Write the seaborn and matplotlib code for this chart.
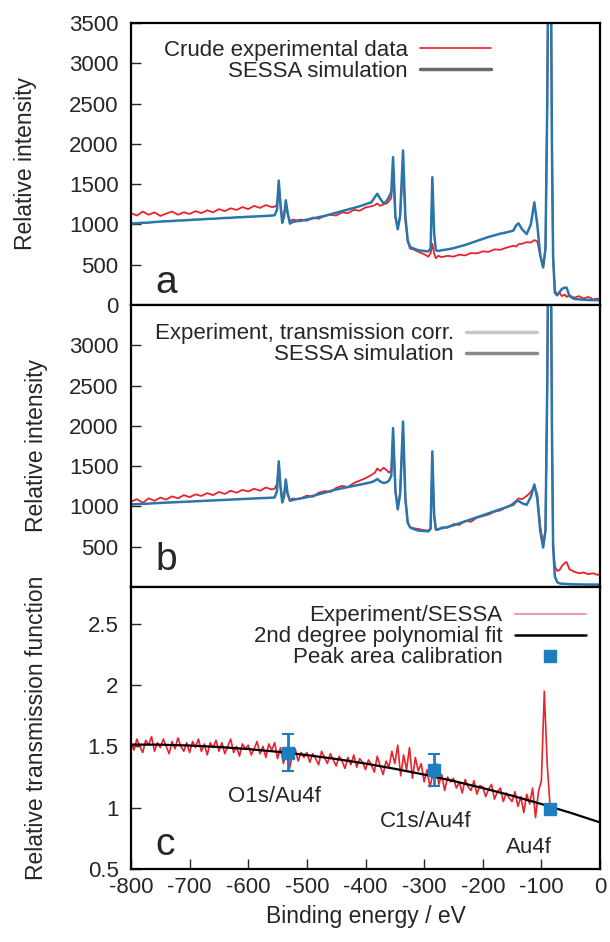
import matplotlib
matplotlib.use("Agg")
import matplotlib.pyplot as plt
import seaborn as sns
from matplotlib.lines import Line2D

# binding energy grid for the survey spectra (eV), denser around the peaks
energy = [
    -800, -790, -780, -770, -760, -750, -740, -730, -720, -710, -700, -690, -680,
    -670, -660, -650, -640, -630, -620, -610, -600, -590, -580, -570, -560,
    -555, -551, -548, -545, -542, -539, -536, -533, -529, -524, -518,
    -510, -500, -490, -480, -470, -460, -450, -440, -430, -420, -410, -400, -390,
    -384, -380, -375, -369, -364, -360, -356, -353, -349, -345, -341, -336, -332,
    -328, -324, -318,
    -310, -300, -293,
    -289, -286, -283, -280, -276,
    -270, -260, -250, -240, -230, -220, -210, -200, -190, -180, -170, -160,
    -155, -148, -143, -139, -133, -125, -118, -112, -107, -102, -97, -93, -90,
    -88, -86, -84, -82, -80, -77, -73, -69, -65, -60, -57, -52, -44, -36, -28,
    -20, -12, -4, 0,
]

# panel a: crude experimental data and SESSA simulation
exp_a = [
    1140, 1110, 1160, 1120, 1150, 1105, 1135, 1160, 1120, 1150, 1130, 1165, 1140,
    1175, 1150, 1190, 1165, 1200, 1180, 1215, 1190, 1230, 1205, 1240, 1215,
    1220, 1250, 1500, 1250, 1080, 1120, 1260, 1130, 1040, 1060, 1050,
    1060, 1045, 1085, 1070, 1105, 1120, 1110, 1150, 1140, 1180, 1170, 1210, 1225,
    1240, 1260, 1230, 1250, 1260, 1290, 1330, 1700, 1080, 980, 1100, 1750, 1050,
    790, 700, 690,
    660, 630, 600,
    640, 760, 640, 580, 610,
    595, 610, 600, 625, 615, 645, 640, 665, 660, 690, 685, 710,
    720, 735, 725, 755, 760, 780, 775, 805, 790, 620, 470, 700, 2500,
    4500, 5000, 4500, 2000, 600, 180, 130, 150, 110, 130, 100, 120, 90, 110, 80,
    100, 70, 80, 60,
]
sim_a = [
    1010, 1015, 1020, 1022, 1030, 1035, 1040, 1042, 1048, 1050, 1055, 1060, 1062,
    1068, 1070, 1075, 1080, 1082, 1088, 1090, 1095, 1098, 1102, 1105, 1110,
    1115, 1180, 1545, 1230, 1020, 1100, 1300, 1150, 1010, 1030, 1040,
    1045, 1060, 1075, 1090, 1105, 1125, 1145, 1165, 1185, 1205, 1225, 1250, 1275,
    1340, 1380, 1320, 1260, 1290, 1340, 1400, 1835, 1100, 940, 1100, 1918, 1100,
    800, 720, 700,
    680, 670, 665,
    700, 1586, 900, 680, 670,
    680, 690, 705, 725, 745, 770, 795, 820, 845, 865, 885, 900,
    910, 922, 990, 1013, 940, 880, 1000, 1274, 1000, 620, 465, 700, 2500,
    4500, 5000, 4500, 2000, 600, 150, 120, 160, 200, 215, 216, 110, 75, 70, 65,
    62, 60, 60, 60,
]

# panel b: transmission corrected experiment and SESSA simulation
exp_b = [
    1060, 1090, 1045, 1100, 1070, 1110, 1085, 1125, 1100, 1140, 1115, 1150, 1130,
    1165, 1140, 1180, 1155, 1195, 1170, 1205, 1185, 1220, 1195, 1235, 1210,
    1220, 1280, 1520, 1250, 1100, 1140, 1320, 1160, 1080, 1100, 1090,
    1100, 1135, 1120, 1170, 1190, 1180, 1230, 1255, 1240, 1290, 1320, 1350, 1390,
    1420, 1470, 1440, 1480, 1450, 1420, 1450, 1900, 1180, 990, 1150, 1980, 1080,
    800, 740, 730,
    720, 705, 700,
    730, 1550, 880, 720, 710,
    740, 735, 780, 770, 820, 810, 860, 880, 900, 935, 950, 990,
    1000, 1040, 1070, 1100, 1090, 1130, 1180, 1250, 1150, 760, 520, 720, 2500,
    4500, 5000, 4500, 2000, 550, 260, 200, 210, 260, 300, 310, 220, 190, 170, 180,
    160, 170, 150, 160,
]
sim_b = [
    1025, 1028, 1032, 1035, 1040, 1043, 1047, 1050, 1054, 1057, 1060, 1064, 1067,
    1071, 1074, 1078, 1081, 1085, 1088, 1092, 1095, 1099, 1102, 1105, 1108,
    1112, 1190, 1560, 1240, 1050, 1120, 1334, 1160, 1070, 1080, 1090,
    1100, 1115, 1130, 1150, 1170, 1190, 1210, 1225, 1240, 1255, 1270, 1285, 1300,
    1320, 1340, 1310, 1290, 1300, 1320, 1380, 1972, 1200, 963, 1150, 2054, 1100,
    800, 740, 720,
    700, 695, 690,
    720, 1683, 900, 710, 716,
    730, 745, 765, 790, 815, 840, 865, 890, 915, 940, 965, 990,
    1005, 1020, 1060, 1070, 1040, 1020, 1120, 1272, 1100, 700, 490, 700, 2500,
    4500, 5000, 4500, 2000, 500, 130, 60, 45, 40, 40, 38, 35, 33, 32, 31,
    30, 30, 30, 30,
]

# panel c: experiment / SESSA ratio
ratio_energy = [
    -800, -795, -790, -785, -780, -775, -770, -765, -760, -755,
    -750, -745, -740, -735, -730, -725, -720, -715, -710, -705,
    -700, -695, -690, -685, -680, -675, -670, -665, -660, -655,
    -650, -645, -640, -635, -630, -625, -620, -615, -610, -605,
    -600, -595, -590, -585, -580, -575, -570, -565, -560, -555,
    -550, -545, -540, -535, -530, -525, -520, -515, -510, -505,
    -500, -495, -490, -485, -480, -475, -470, -465, -460, -455,
    -450, -445, -440, -435, -430, -425, -420, -415, -410, -405,
    -400, -395, -390, -385, -380, -375, -370, -365, -360, -355,
    -350, -345, -340, -335, -330, -325, -320, -315, -310, -305,
    -300, -295, -290, -285, -280, -275, -270, -265, -260, -255,
    -250, -245, -240, -235, -230, -225, -220, -215, -210, -205,
    -200, -195, -190, -185, -180, -175, -170, -165, -160, -155,
    -150, -145, -140, -135, -130, -125, -120, -115, -110, -105,
    -100, -95, -90, -85,
]
ratio = [
    1.52, 1.47, 1.56, 1.50, 1.45, 1.55, 1.51, 1.58, 1.46, 1.53,
    1.49, 1.56, 1.50, 1.44, 1.54, 1.48, 1.57, 1.50, 1.46, 1.53,
    1.45, 1.54, 1.49, 1.56, 1.46, 1.52, 1.43, 1.53, 1.49, 1.55,
    1.46, 1.53, 1.44, 1.50, 1.56, 1.45, 1.50, 1.42, 1.52, 1.48,
    1.51, 1.43, 1.48, 1.54, 1.44, 1.50, 1.41, 1.52, 1.47, 1.53,
    1.40, 1.49, 1.36, 1.46, 1.31, 1.43, 1.48, 1.38, 1.45, 1.41,
    1.45, 1.37, 1.44, 1.40, 1.35, 1.46, 1.41, 1.36, 1.44, 1.39,
    1.34, 1.42, 1.38, 1.32, 1.41, 1.35, 1.43, 1.33, 1.40, 1.37,
    1.31, 1.39, 1.35, 1.29, 1.42, 1.34, 1.27, 1.38, 1.33, 1.46,
    1.36, 1.51, 1.26, 1.43, 1.31, 1.49, 1.24, 1.41, 1.30, 1.36,
    1.21, 1.31, 1.17, 1.28, 1.36, 1.19, 1.27, 1.14, 1.25, 1.21,
    1.24, 1.16, 1.21, 1.12, 1.23, 1.17, 1.14, 1.22, 1.11, 1.18,
    1.17, 1.09, 1.15, 1.19, 1.07, 1.13, 1.16, 1.05, 1.12, 1.08,
    1.05, 1.13, 1.01, 1.09, 0.96, 1.11, 1.03, 1.16, 0.92, 1.13,
    1.22, 1.95, 1.35, 1.00,
]

# 2nd degree polynomial fit
fit_energy = [-800, -750, -700, -650, -600, -550, -500, -450, -400, -350,
              -300, -250, -200, -150, -100, -50, 0]
fit_ratio = [1.515, 1.514, 1.507, 1.495, 1.478, 1.456, 1.429, 1.397, 1.360,
             1.317, 1.270, 1.218, 1.160, 1.098, 1.030, 0.958, 0.880]

# peak area calibration points
cal_names = ["O1s/Au4f", "C1s/Au4f", "Au4f"]
cal_energy = [-532, -283, -86]
cal_ratio = [1.45, 1.31, 0.99]
cal_err = [0.15, 0.13, 0.03]

RED = "#e8232b"
BLUE = "#2a76aa"
SQ = "#1b7fc0"

sns.set_theme(style="ticks")
plt.rcParams["font.family"] = ["Liberation Sans", "DejaVu Sans"]
plt.rcParams["axes.unicode_minus"] = False

fig, axes = plt.subplots(3, 1, figsize=(6.1, 9.42), dpi=100, sharex=True)
fig.subplots_adjust(left=0.2148, right=0.9836, top=0.9756, bottom=0.0775, hspace=0)
ax_a, ax_b, ax_c = axes

sns.lineplot(x=energy, y=exp_a, ax=ax_a, color=RED, lw=1.3, estimator=None, sort=False)
sns.lineplot(x=energy, y=sim_a, ax=ax_a, color=BLUE, lw=1.8, estimator=None, sort=False)
sns.lineplot(x=energy, y=exp_b, ax=ax_b, color=RED, lw=1.3, estimator=None, sort=False)
sns.lineplot(x=energy, y=sim_b, ax=ax_b, color=BLUE, lw=1.8, estimator=None, sort=False)

sns.lineplot(x=ratio_energy, y=ratio, ax=ax_c, color=RED, lw=1.2, estimator=None, sort=False)
sns.lineplot(x=fit_energy, y=fit_ratio, ax=ax_c, color="black", lw=1.6, estimator=None, sort=False)
ax_c.errorbar(cal_energy, cal_ratio, yerr=cal_err, fmt="s", color=SQ, ms=9,
              elinewidth=2, capsize=4, capthick=1.5, zorder=5)

ax_a.set_ylim(0, 3500)
ax_a.set_yticks([0, 500, 1000, 1500, 2000, 2500, 3000, 3500])
ax_b.set_ylim(0, 3500)
ax_b.set_yticks([500, 1000, 1500, 2000, 2500, 3000])
ax_c.set_ylim(0.5, 2.8)
ax_c.set_yticks([0.5, 1, 1.5, 2, 2.5])
ax_c.set_yticklabels(["0.5", "1", "1.5", "2", "2.5"])
ax_c.set_xlim(-800, 0)
ax_c.set_xticks([-800, -700, -600, -500, -400, -300, -200, -100, 0])

for ax in axes:
    ax.tick_params(axis="y", direction="in", length=7, width=1, labelsize=16, pad=9)
    ax.tick_params(axis="x", direction="in", length=7, width=1, labelsize=16, pad=6)
    for sp in ax.spines.values():
        sp.set_linewidth(1.6)
        sp.set_color("black")
ax_a.tick_params(axis="x", bottom=False)
ax_b.tick_params(axis="x", bottom=False)

ax_a.set_ylabel("Relative intensity", fontsize=16.5)
ax_b.set_ylabel("Relative intensity", fontsize=16.5)
ax_c.set_ylabel("Relative transmission function", fontsize=16.5)
ax_a.yaxis.set_label_coords(-0.200, 0.5)
ax_b.yaxis.set_label_coords(-0.178, 0.5)
ax_c.yaxis.set_label_coords(-0.178, 0.5)
ax_c.set_xlabel("Binding energy / eV", fontsize=16.5, labelpad=5)

ax_a.text(0.052, 0.043, "a", transform=ax_a.transAxes, fontsize=28, ha="left", va="baseline")
ax_b.text(0.052, 0.061, "b", transform=ax_b.transAxes, fontsize=28, ha="left", va="baseline")
ax_c.text(0.052, 0.050, "c", transform=ax_c.transAxes, fontsize=28, ha="left", va="baseline")

label_pos = [(-556, 1.09), (-297, 0.885), (-121, 0.672)]
for name, (xp, yp) in zip(cal_names, label_pos):
    ax_c.text(xp, yp, name, fontsize=16, ha="center", va="center")

leg_kw = dict(frameon=False, markerfirst=False, loc="upper right", borderpad=0,
              borderaxespad=0, labelspacing=0.0, handlelength=3.2,
              handletextpad=0.55, fontsize=16)

ax_a.legend(handles=[Line2D([], [], color=RED, lw=1.2),
                     Line2D([], [], color="#6b6b6b", lw=2.5)],
            labels=["Crude experimental data", "SESSA simulation"],
            bbox_to_anchor=(0.7676, 0.940), **leg_kw)
ax_b.legend(handles=[Line2D([], [], color="#c8c8c8", lw=2.5),
                     Line2D([], [], color="#8a8a8a", lw=2.5)],
            labels=["Experiment, transmission corr.", "SESSA simulation"],
            bbox_to_anchor=(0.8657, 0.935), **leg_kw)
ax_c.legend(handles=[Line2D([], [], color="#e9a0a6", lw=1.5),
                     Line2D([], [], color="black", lw=1.8),
                     Line2D([], [], color=SQ, marker="s", ms=9, ls="none")],
            labels=["Experiment/SESSA", "2nd degree polynomial fit",
                    "Peak area calibration"],
            bbox_to_anchor=(0.970, 0.935), **leg_kw)

fig.savefig("out.png", dpi=100)
